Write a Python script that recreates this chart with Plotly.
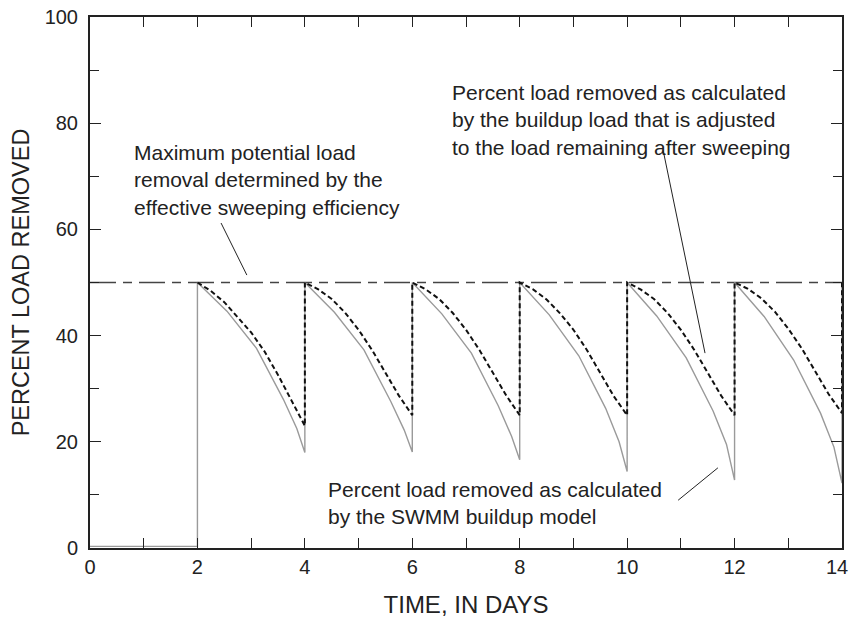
import plotly.graph_objects as go

# ---- data ----
cycle_starts = [2, 4, 6, 8, 10, 12]
final_day = 14

pre_sweep_days = [0, 2]
pre_sweep_vals = [0.3, 0.3]

swmm_offsets = [0, 0.55, 1.1, 1.6, 1.85, 2.0]
swmm_c1 = [50, 44.6, 37.6, 28.0, 22.5, 18.0]
swmm_c2 = [50, 44.4, 37.3, 27.6, 22.2, 18.1]
swmm_c3 = [50, 44.1, 36.7, 26.8, 21.0, 16.6]
swmm_c4 = [50, 43.9, 36.2, 26.3, 20.0, 14.4]
swmm_c5 = [50, 43.7, 35.8, 25.8, 19.5, 12.8]
swmm_c6 = [50, 43.6, 35.4, 25.4, 19.0, 12.2]

adj_offsets = [0, 0.25, 0.5, 0.75, 1.0, 1.25, 1.5, 1.75, 2.0]
adj_c1 = [50, 48.4, 46.3, 43.5, 40.6, 37.0, 32.6, 27.8, 23.0]
adj_c2 = [50, 48.7, 46.9, 44.3, 41.1, 37.3, 33.0, 28.7, 25.0]
adj_c3 = [50, 48.7, 46.9, 44.3, 41.1, 37.3, 33.0, 28.7, 25.0]
adj_c4 = [50, 48.7, 46.8, 44.2, 41.1, 37.3, 32.9, 28.6, 25.0]
adj_c5 = [50, 48.7, 46.9, 44.3, 41.1, 37.3, 33.0, 28.7, 25.0]
adj_c6 = [50, 48.8, 47.0, 44.5, 41.3, 37.6, 33.3, 29.0, 25.4]

max_removal = 50
restart_val = 50

x_tick_vals = list(range(0, 15))
x_tick_text = [str(v) if v % 2 == 0 else "" for v in x_tick_vals]
x_tick_text[-1] = "14\u2002"

FONT = "Liberation Sans, Arial, Helvetica, sans-serif"
INK = "#222222"

swmm_cycles = [swmm_c1, swmm_c2, swmm_c3, swmm_c4, swmm_c5, swmm_c6]
adj_cycles = [adj_c1, adj_c2, adj_c3, adj_c4, adj_c5, adj_c6]

# build series
gx, gy = list(pre_sweep_days), list(pre_sweep_vals)
for s, vals in zip(cycle_starts, swmm_cycles):
    gx += [s + o for o in swmm_offsets]
    gy += vals
gx.append(final_day); gy.append(restart_val)

dx, dy = [], []
for s, vals in zip(cycle_starts, adj_cycles):
    dx += [s + o for o in adj_offsets]
    dy += vals
dx.append(final_day); dy.append(restart_val)

fig = go.Figure()
fig.add_trace(go.Scatter(x=[0, final_day], y=[max_removal, max_removal], mode="lines",
                         line=dict(color="#444444", width=1.5, dash="26px,7px,9px,7px"),
                         hoverinfo="skip", showlegend=False))
fig.add_trace(go.Scatter(x=gx, y=gy, mode="lines",
                         line=dict(color="#9a9a9a", width=1.4),
                         showlegend=False))
fig.add_trace(go.Scatter(x=dx, y=dy, mode="lines",
                         line=dict(color="#111111", width=2, dash="5px,3px"),
                         showlegend=False))

# leader lines
leaders = [((2.44, 61.2), (2.92, 51.4)),
           ((10.67, 74.9), (11.45, 36.7)),
           ((10.95, 9.0), (11.69, 15.1))]
for (x0, y0), (x1, y1) in leaders:
    fig.add_shape(type="line", xref="x", yref="y", x0=x0, y0=y0, x1=x1, y1=y1,
                  line=dict(color=INK, width=1))

notes = [
    (0.79, 69.3, "Maximum potential load<br>removal determined by the<br>effective sweeping efficiency"),
    (6.70, 80.6, "Percent load removed as calculated<br>by the buildup load that is adjusted<br>to the load remaining after sweeping"),
    (4.40, 8.5, "Percent load removed as calculated<br>by the SWMM buildup model"),
]
for x, y, t in notes:
    fig.add_annotation(x=x, y=y, xref="x", yref="y", text=t, showarrow=False,
                       xanchor="left", yanchor="middle", align="left",
                       font=dict(family=FONT, size=21, color=INK))

fig.update_layout(
    width=850, height=618,
    margin=dict(l=90, r=8, t=17, b=70, autoexpand=False),
    paper_bgcolor="white", plot_bgcolor="white",
    font=dict(family=FONT, color=INK),
    showlegend=False,
)
fig.update_xaxes(range=[0, 14], tickmode="array", tickvals=x_tick_vals, ticktext=x_tick_text,
                 ticks="inside", ticklen=10, tickwidth=1.2, tickcolor=INK,
                 showline=True, linewidth=2, linecolor=INK, mirror="ticks",
                 showgrid=False, zeroline=False, automargin=False,
                 ticklabeloverflow="allow", ticklabelstandoff=0,
                 tickfont=dict(family=FONT, size=20, color=INK),
                 title=dict(text="TIME, IN DAYS", font=dict(family=FONT, size=24, color=INK), standoff=22))
fig.update_yaxes(range=[0, 100], tickmode="linear", tick0=0, dtick=20,
                 ticks="inside", ticklen=11, tickwidth=1.2, tickcolor=INK,
                 minor=dict(dtick=10, ticks="inside", ticklen=9, tickwidth=1.2, tickcolor=INK, showgrid=False),
                 showline=True, linewidth=2, linecolor=INK, mirror="ticks",
                 showgrid=False, zeroline=False, automargin=False,
                 ticklabeloverflow="allow", ticklabelstandoff=6,
                 tickfont=dict(family=FONT, size=20, color=INK),
                 title=dict(text="PERCENT LOAD REMOVED", font=dict(family=FONT, size=23.5, color=INK), standoff=8))

fig.write_html("out.html", config={"displayModeBar": False},
               post_script="document.body.style.margin='0';document.body.style.overflow='hidden';")
